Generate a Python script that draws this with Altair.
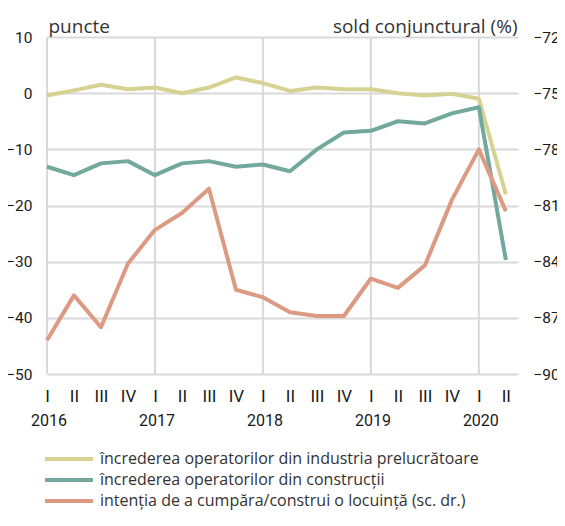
import altair as alt
import pandas as pd

# ---- data ----
quarters = list(range(18))
quarter_labels = ["I", "II", "III", "IV"] * 4 + ["I", "II"]
year_labels = ["2016", "2017", "2018", "2019", "2020"]
year_pos = [0, 4, 8, 12, 16]

industry = [-0.4, 0.5, 1.5, 0.7, 1.0, 0.0, 1.0, 2.8, 1.8, 0.4,
            1.0, 0.7, 0.7, 0.0, -0.4, -0.1, -1.0, -18.0]
construction = [-13.1, -14.6, -12.5, -12.1, -14.6, -12.5, -12.1, -13.1, -12.7, -13.9,
                -10.0, -7.0, -6.7, -5.0, -5.4, -3.6, -2.5, -29.7]
intention = [-88.2, -85.8, -87.5, -84.1, -82.3, -81.4, -80.1, -85.5, -85.9, -86.7,
             -86.9, -86.9, -84.9, -85.4, -84.2, -80.7, -78.0, -81.3]

series_names = [
    "încrederea operatorilor din industria prelucrătoare",
    "încrederea operatorilor din construcții",
    "intenția de a cumpăra/construi o locuință (sc. dr.)",
]
colors = ["#d6d392", "#72a99c", "#dd9a82"]

left_ticks = [10, 0, -10, -20, -30, -40, -50]
right_ticks = [-72, -75, -78, -81, -84, -87, -90]

# ---- tables ----
df_left = pd.DataFrame({
    "q": quarters * 2,
    "value": industry + construction,
    "series": [series_names[0]] * 18 + [series_names[1]] * 18,
})
df_right = pd.DataFrame({"q": quarters, "value": intention, "series": [series_names[2]] * 18})
df_years = pd.DataFrame({"q": year_pos, "year": year_labels})

W, H = 471, 337
TICK_FONT = "Roboto"
TEXT_FONT = "Open Sans"
GRID = "#d9d9d9"
LBL = 15.5
INK = "#1a1a1a"

xscale = alt.Scale(domain=[0, 17.45], nice=False, zero=False)
label_expr = ("datum.value % 4 == 0 ? 'I' : datum.value % 4 == 1 ? 'II' : "
              "datum.value % 4 == 2 ? 'III' : 'IV'")
x_axis = alt.Axis(
    title=None, values=quarters, labelExpr=label_expr, domain=False, ticks=False,
    grid=False, labelFont=TICK_FONT, labelFontSize=17, labelColor=INK,
    labelPadding=14, labelFlush=False)

color = alt.Color(
    "series:N",
    scale=alt.Scale(domain=series_names, range=colors),
    sort=series_names,
    legend=alt.Legend(
        title=None, orient="none", legendX=12, legendY=412, direction="vertical",
        symbolType="M-3,0H3", symbolSize=256, symbolStrokeWidth=4,
        labelFont=TEXT_FONT, labelFontSize=16, labelColor="#333333",
        labelOffset=21, rowPadding=3, labelLimit=600, padding=0,
    ),
)

vgrid = alt.Chart(df_years).mark_rule(color=GRID, strokeWidth=2).encode(
    x=alt.X("q:Q", scale=xscale, axis=x_axis),
    y=alt.value(0), y2=alt.value(H),
)

left_lines = alt.Chart(df_left).mark_line(strokeWidth=4, strokeJoin="round").encode(
    x=alt.X("q:Q", scale=xscale, axis=x_axis),
    y=alt.Y("value:Q", scale=alt.Scale(domain=[-50, 10], nice=False), axis=alt.Axis(
        orient="left", values=left_ticks, title="puncte", titleAngle=0, titleAlign="left",
        titleBaseline="alphabetic", titleX=1, titleY=-5, titleFont=TEXT_FONT,
        titleFontSize=19, titleFontWeight="normal", titleColor="#333333",
        domain=False, ticks=False, grid=True, gridColor=GRID, gridWidth=2,
        labelFont=TICK_FONT, labelFontSize=LBL, labelColor=INK, labelPadding=15)),
    color=color,
    detail="series:N",
)

right_line = alt.Chart(df_right).mark_line(strokeWidth=4, strokeJoin="round").encode(
    x=alt.X("q:Q", scale=xscale, axis=x_axis),
    y=alt.Y("value:Q", scale=alt.Scale(domain=[-90, -72], nice=False), axis=alt.Axis(
        orient="right", values=right_ticks, title="sold conjunctural (%)", titleAngle=0,
        titleAlign="right", titleBaseline="alphabetic", titleX=-1, titleY=-5,
        titleFont=TEXT_FONT, titleFontSize=19, titleFontWeight="normal", titleColor="#333333",
        domain=False, ticks=False, grid=False,
        labelFont=TICK_FONT, labelFontSize=LBL, labelColor=INK, labelPadding=15)),
    color=color,
)

year_text = alt.Chart(df_years).mark_text(
    font=TICK_FONT, fontSize=16, color=INK, baseline="middle", align="center", dx=2
).encode(
    x=alt.X("q:Q", scale=xscale, axis=x_axis),
    y=alt.value(H + 47),
    text="year:N",
)

chart = alt.layer(vgrid, left_lines, right_line, year_text).resolve_scale(
    y="independent"
).properties(
    width=W, height=H,
    autosize=alt.AutoSizeParams(type="none"),
    padding={"left": 39, "top": 29, "right": 39, "bottom": 137},
).configure_view(stroke=None)

chart.save("out.html", embed_options={"renderer": "svg", "actions": False})
